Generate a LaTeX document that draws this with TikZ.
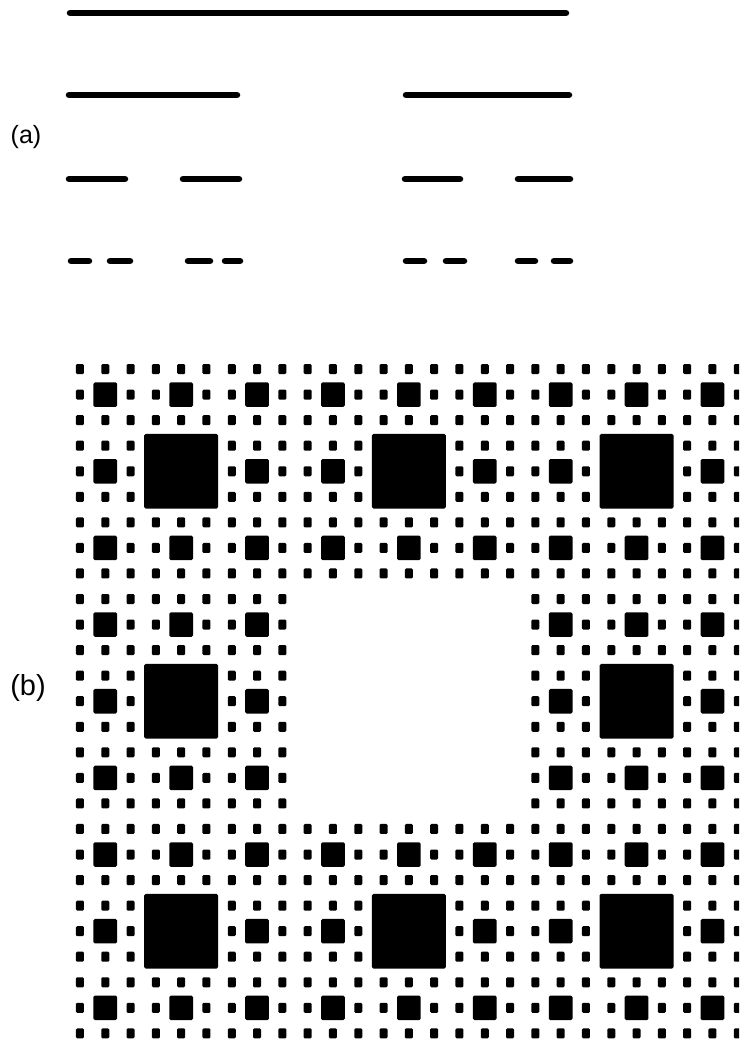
\documentclass[tikz,border=0pt]{standalone}
\usepackage{fontspec}
\setmainfont{Liberation Sans}
\begin{document}
\begin{tikzpicture}[x=1pt,y=-1pt,
  seg/.style={line width=6.5pt,line cap=round},
  blk/.style={fill=black,rounded corners=1.5pt},
  dotbox/.style={fill=black,rounded corners=1.2pt},
  lbla/.style={font=\fontsize{25}{25}\selectfont,inner sep=0pt},
  lblb/.style={font=\fontsize{29}{29}\selectfont,inner sep=0pt}]
\useasboundingbox (0,0) rectangle (739,1040);
\clip (0,0) rectangle (739,1040);
% (a) Cantor set
\draw[seg] (70,13) -- (566,13);
\draw[seg] (69,95) -- (237,95);
\draw[seg] (406,95) -- (569,95);
\draw[seg] (69,179) -- (125,179);
\draw[seg] (183,179) -- (239,179);
\draw[seg] (405,179) -- (460,179);
\draw[seg] (518,179) -- (570,179);
\foreach \a/\b in {71/89,110/130,188/210,225/240,406/424,446/464,518/535,554/570}{
  \draw[seg] (\a,261) -- (\b,261);
}
\node[lbla] (la) at (26,137) {(a)};
% (b) carpet
\def\cx{25.3}\def\cy{25.55}\def\ox{67.3}\def\oy{356.3}
\foreach \bx in {0,1,2}{\foreach \by in {0,1,2}{
 \ifnum\numexpr\bx*3+\by\relax=4 \else
  \fill[blk] ({\ox+\cx*(9*\bx+3)+1},{\oy+\cy*(9*\by+3)+1}) rectangle ++({3*\cx-2},{3*\cy-2});
  \foreach \sx in {0,1,2}{\foreach \sy in {0,1,2}{
    \ifnum\numexpr\sx*3+\sy\relax=4 \else
      \fill[blk] ({\ox+\cx*(9*\bx+3*\sx+1)+0.8},{\oy+\cy*(9*\by+3*\sy+1)+0.5}) rectangle ++({\cx-1.6},{\cy-1});
      \foreach \tx in {0,1,2}{\foreach \ty in {0,1,2}{
        \ifnum\numexpr\tx*3+\ty\relax=4 \else
          \fill[dotbox] ({\ox+\cx*(9*\bx+3*\sx+\tx+0.5)-4},{\oy+\cy*(9*\by+3*\sy+\ty+0.5)-5}) rectangle ++(8,10);
        \fi}}
    \fi}}
 \fi}}
\node[lblb] (lb) at (28,688) {(b)};
\end{tikzpicture}
\end{document}
